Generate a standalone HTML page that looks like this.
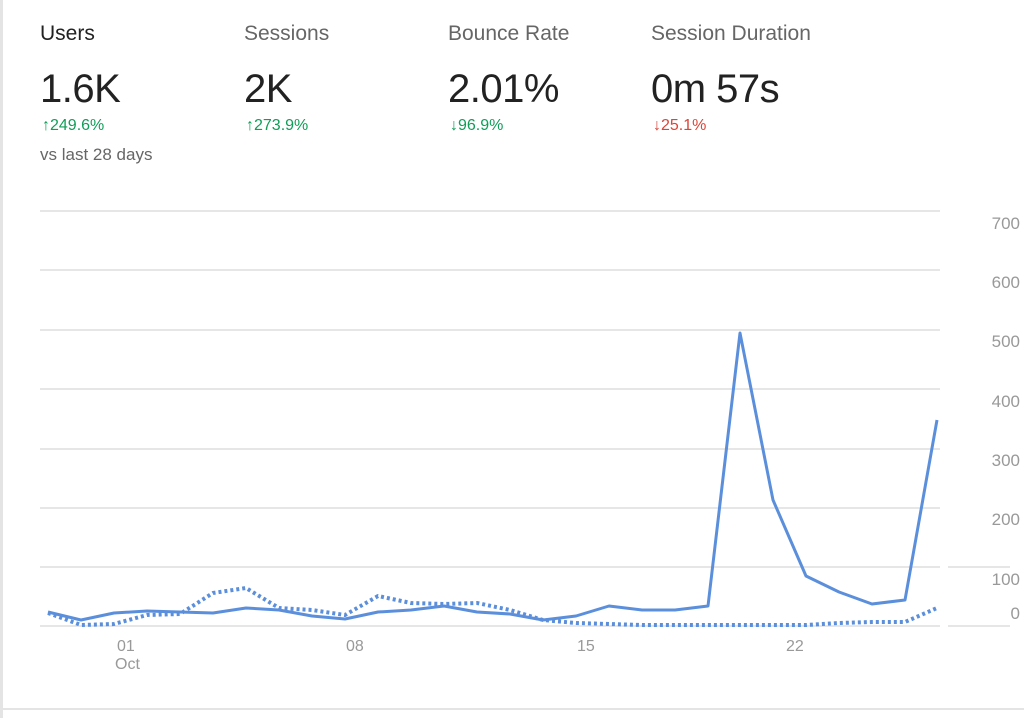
<!DOCTYPE html>
<html><head><style>
body{margin:0;width:1024px;height:718px;background:#fff;font-family:"Liberation Sans",sans-serif;overflow:hidden;position:relative}
.k{position:absolute;top:22px;font-size:21px;color:#666;letter-spacing:0px}
.v{position:absolute;top:67px;font-size:40px;color:#222;letter-spacing:-0.5px}
.d{position:absolute;top:117px;font-size:16px}
.g{color:#0f9d58}.r{color:#db4437}
</style></head><body>
<div style="position:absolute;left:0;top:0;width:3px;height:718px;background:#e4e4e4"></div>
<div style="position:absolute;left:0;top:708px;width:1024px;height:2px;background:#e4e4e4"></div>
<div class="k" style="left:40px;color:#222">Users</div>
<div class="k" style="left:244px">Sessions</div>
<div class="k" style="left:448px">Bounce Rate</div>
<div class="k" style="left:651px">Session Duration</div>
<div class="v" style="left:40px">1.6K</div>
<div class="v" style="left:244px">2K</div>
<div class="v" style="left:448px">2.01%</div>
<div class="v" style="left:651px">0m 57s</div>
<div class="d g" style="left:42px">↑249.6%</div>
<div class="d g" style="left:246px">↑273.9%</div>
<div class="d g" style="left:450px">↓96.9%</div>
<div class="d r" style="left:653px">↓25.1%</div>
<div style="position:absolute;left:40px;top:145px;font-size:17px;color:#666">vs last 28 days</div>
<svg width="1024" height="718" style="position:absolute;left:0;top:0">
<g stroke="#e6e6e6" stroke-width="2">
<line x1="40" x2="940" y1="211" y2="211"/><line x1="40" x2="940" y1="270" y2="270"/>
<line x1="40" x2="940" y1="330" y2="330"/><line x1="40" x2="940" y1="389" y2="389"/>
<line x1="40" x2="940" y1="449" y2="449"/><line x1="40" x2="940" y1="508" y2="508"/>
<line x1="40" x2="940" y1="567" y2="567"/><line x1="40" x2="940" y1="626" y2="626"/>
<line x1="948" x2="1010" y1="567" y2="567"/><line x1="948" x2="1010" y1="626" y2="626"/>
</g>
<g font-size="17" fill="#999" text-anchor="end" font-family="Liberation Sans, sans-serif">
<text x="1020" y="229">700</text><text x="1020" y="288">600</text><text x="1020" y="347">500</text>
<text x="1020" y="407">400</text><text x="1020" y="466">300</text><text x="1020" y="525">200</text>
<text x="1020" y="585">100</text><text x="1020" y="619">0</text>
</g>
<g font-size="16" fill="#999" font-family="Liberation Sans, sans-serif">
<text x="117" y="651">01</text><text x="115" y="669">Oct</text>
<text x="346" y="651">08</text><text x="577" y="651">15</text><text x="786" y="651">22</text>
</g>
<polyline fill="none" stroke="#5b8fdb" stroke-width="3" stroke-linejoin="round" points="48,612 81,620 114,613 147,611 180,612 213,613 246,608 279,610 312,616 345,619 378,612 411,610 444,606 477,612 510,614 543,620 576,616 609,606 642,610 675,610 708,606 740,333 773,500 806,576 839,592 872,604 905,600 937,420"/>
<polyline fill="none" stroke="#5b8fdb" stroke-width="4" stroke-dasharray="3,3" stroke-linejoin="round" points="48,613 81,625 114,624 147,615 180,614 213,593 246,588 279,608 312,610 345,615 378,596 411,603 444,604 477,603 510,610 543,620 576,623 609,624 642,625 675,625 708,625 740,625 773,625 806,625 839,623 872,622 905,622 937,608"/>
</svg>
</body></html>
